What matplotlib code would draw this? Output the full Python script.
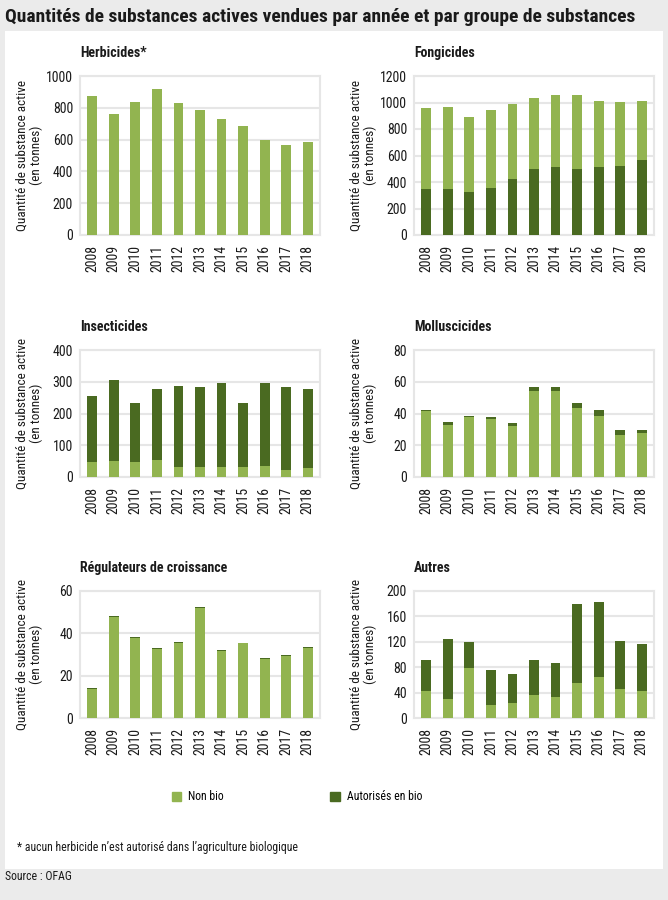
import numpy as np
import matplotlib
matplotlib.use('Agg')
from matplotlib import pyplot as plt
from matplotlib import font_manager
from matplotlib.patches import Rectangle, Patch

available = set(f.name for f in font_manager.fontManager.ttflist)
family = [f for f in ['Liberation Sans Narrow', 'Roboto Condensed', 'Liberation Sans'] if f in available][:1]
plt.rcParams['font.family'] = family + ['DejaVu Sans']

years = [str(y) for y in range(2008, 2019)]

herb_nonbio = [876, 759, 839, 916, 830, 785, 732, 686, 600, 567, 586]
herb_bio = [0, 0, 0, 0, 0, 0, 0, 0, 0, 0, 0]

fong_nonbio = [613, 621, 560, 593, 563, 533, 543, 553, 505, 485, 447]
fong_bio = [344, 344, 327, 354, 422, 500, 510, 500, 510, 520, 568]

insect_nonbio = [46, 49, 46, 53, 31, 31, 33, 33, 36, 21, 29]
insect_bio = [209, 255, 187, 225, 256, 253, 262, 200, 259, 263, 249]

mollu_nonbio = [41.5, 32.8, 37.7, 36.4, 32.4, 54.3, 54.3, 43.6, 38.7, 26.5, 28.0]
mollu_bio = [0.6, 1.9, 1.0, 1.3, 1.9, 2.1, 2.1, 3.3, 3.6, 3.4, 1.5]

regul_nonbio = [13.7, 47.7, 38.0, 32.6, 35.5, 52.0, 31.8, 35.2, 27.8, 29.4, 33.1]
regul_bio = [0.4, 0.4, 0.4, 0.3, 0.4, 0.4, 0.3, 0.4, 0.4, 0.4, 0.4]

autres_nonbio = [42, 30, 79, 20, 24, 37, 33, 55, 64, 46, 42]
autres_bio = [49, 95, 41, 55, 46, 54, 54, 125, 118, 76, 75]

light = '#92b450'
dark = '#4a6a21'
grid_col = '#e6e6e6'
text_col = '#1a1a1a'

W, H = 668, 900
fig = plt.figure(figsize=(W / 100, H / 100), dpi=100)
fig.patch.set_facecolor('#ebebeb')
fig.patches.append(Rectangle((5 / W, 1 - 869 / H), 658 / W, 838 / H,
                             transform=fig.transFigure, facecolor='white',
                             edgecolor='none', zorder=-5))

fig.text(5 / W, 1 - 17 / H,
         'Quantités de substances actives vendues par année et par groupe de substances',
         fontsize=14, fontweight='bold', va='center', ha='left', color=text_col)

# (title, nonbio, bio, ymax, step, bio at bottom?, left px, top px, bottom px)
panels = [
    ('Herbicides*', herb_nonbio, herb_bio, 1000, 200, False, 80, 76, 235),
    ('Fongicides', fong_nonbio, fong_bio, 1200, 200, True, 414, 76, 235),
    ('Insecticides', insect_nonbio, insect_bio, 400, 100, False, 80, 350, 477),
    ('Molluscicides', mollu_nonbio, mollu_bio, 80, 20, False, 414, 350, 477),
    ('Régulateurs de croissance', regul_nonbio, regul_bio, 60, 20, False, 80, 591, 718),
    ('Autres', autres_nonbio, autres_bio, 200, 40, False, 414, 591, 718),
]

x = np.arange(len(years))
for title, nonbio, bio, ymax, step, bio_first, left, top, bottom in panels:
    ax = fig.add_axes([left / W, 1 - bottom / H, 240 / W, (bottom - top) / H])
    ax.set_facecolor('white')
    if bio_first:
        ax.bar(x, bio, width=0.46, color=dark, zorder=3)
        ax.bar(x, nonbio, width=0.46, bottom=bio, color=light, zorder=3)
    else:
        ax.bar(x, nonbio, width=0.46, color=light, zorder=3)
        if sum(bio) > 0:
            ax.bar(x, bio, width=0.46, bottom=nonbio, color=dark, zorder=3)
    ax.set_xlim(-0.57, 10.57)
    ax.set_ylim(0, ymax)
    ax.set_yticks(np.arange(0, ymax + step, step))
    ax.set_xticks(x)
    ax.set_xticklabels(years, rotation=90)
    ax.tick_params(axis='y', length=0, labelsize=10, colors=text_col, pad=5)
    ax.tick_params(axis='x', length=0, labelsize=10, colors=text_col, pad=7)
    ax.grid(axis='y', color=grid_col, linewidth=1.5, zorder=0)
    for s in ax.spines.values():
        s.set_color(grid_col)
        s.set_linewidth(1.5)
    ax.set_ylabel('Quantité de substance active\n(en tonnes)', fontsize=9.5,
                  color=text_col, linespacing=1.05)
    ax.yaxis.set_label_coords(-0.155, 0.5)
    ax.annotate(title, xy=(0, 1), xycoords='axes fraction', xytext=(0, 16.5),
                textcoords='offset points', fontsize=10, fontweight='bold',
                va='center', ha='left', color=text_col)

handles = [Patch(color=light), Patch(color=dark)]
fig.legend(handles, ['Non bio', 'Autorisés en bio'], loc='center',
           bbox_to_anchor=(297 / W, 1 - 797 / H), ncol=2, frameon=False,
           fontsize=8.5, handlelength=0.8, handleheight=0.8, handletextpad=0.6,
           columnspacing=9.0)

fig.text(17 / W, 1 - 848 / H,
         '* aucun herbicide n’est autorisé dans l’agriculture biologique',
         fontsize=8.5, va='center', ha='left', color=text_col)
fig.text(5 / W, 1 - 877 / H, 'Source : OFAG', fontsize=8.5, va='center',
         ha='left', color=text_col)

fig.savefig('out.png', dpi=100, facecolor=fig.get_facecolor())
